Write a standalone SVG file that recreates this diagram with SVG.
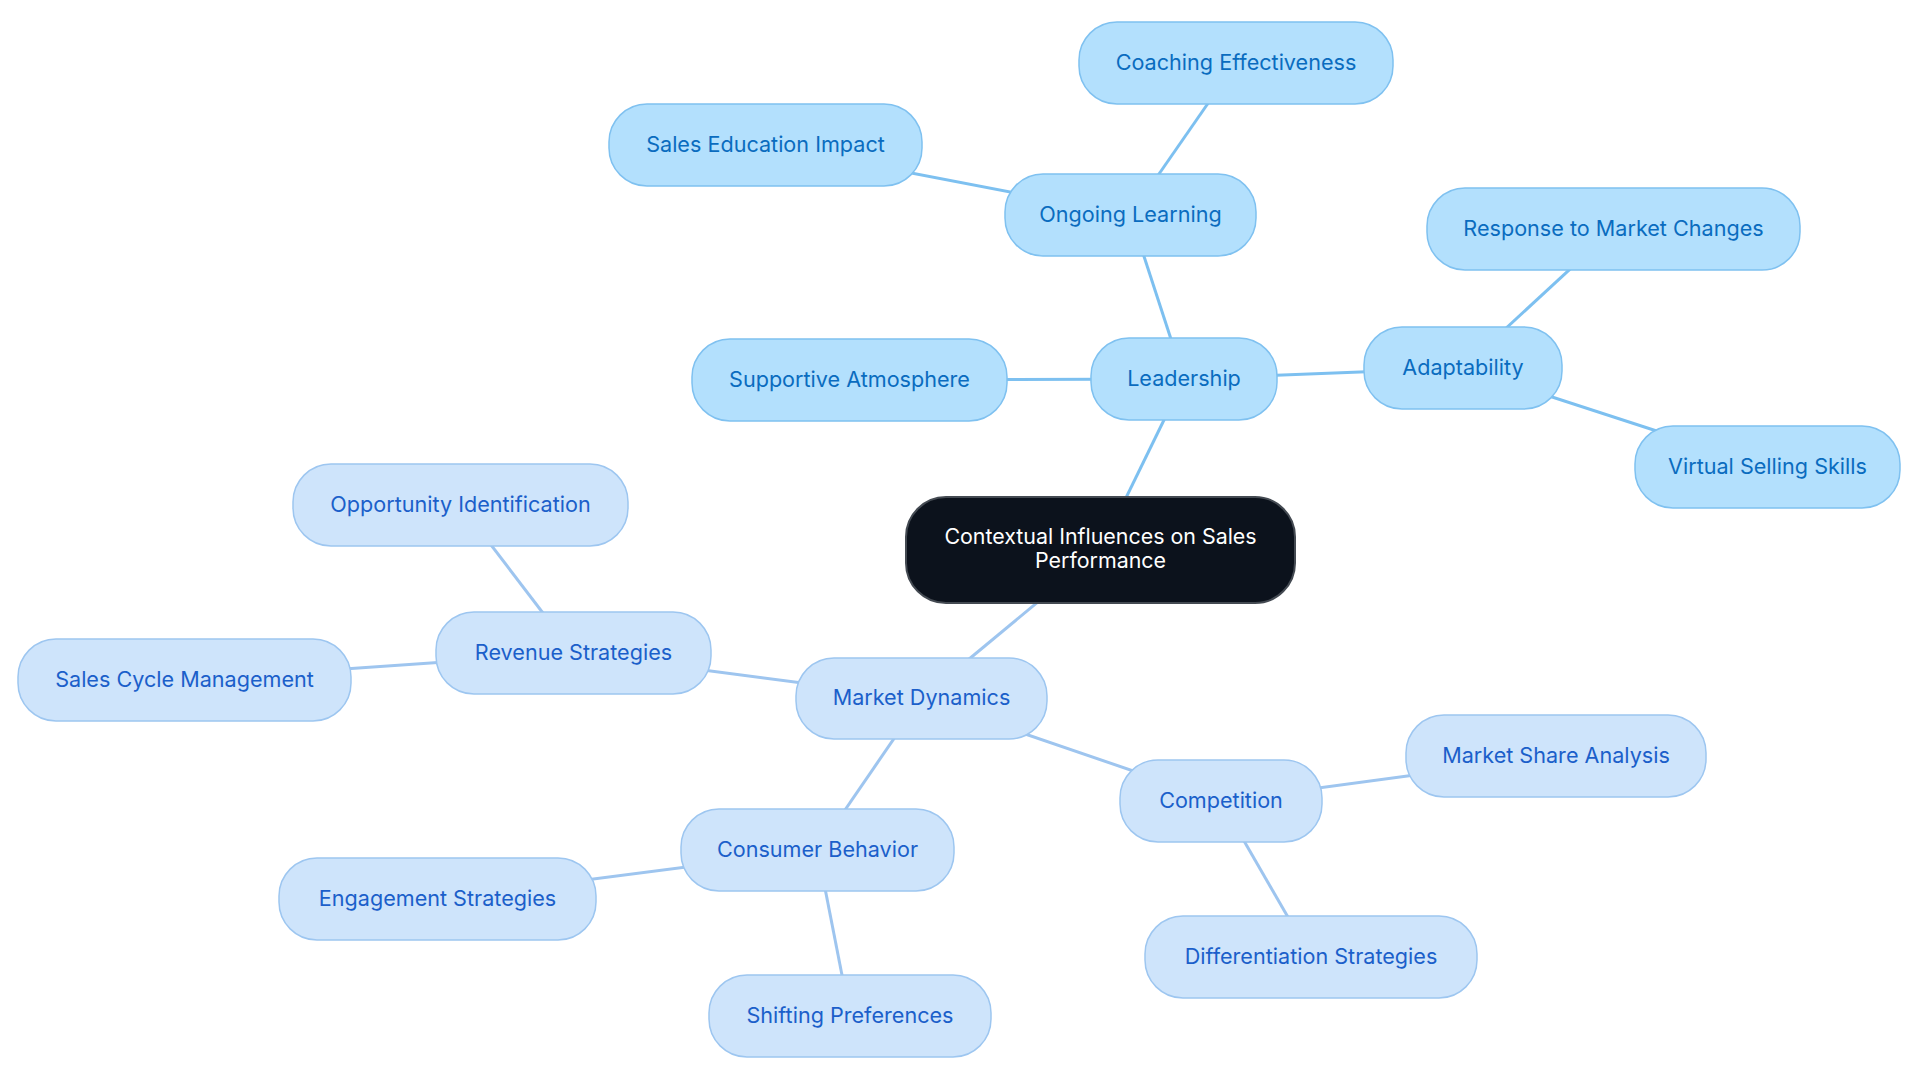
<svg xmlns="http://www.w3.org/2000/svg" width="1920" height="1083" viewBox="0 0 1920 1083">
<style>
.bg{fill:#ffffff}
.e1{stroke:#7dc0f0;stroke-width:3;fill:none}
.e2{stroke:#9ec5ef;stroke-width:3;fill:none}
.n1 rect{fill:#b3e0fd;stroke:#7fc1f0;stroke-width:1.5}
.n2 rect{fill:#cee4fb;stroke:#9dc6f0;stroke-width:1.5}
.n1 text{fill:#0a6cbf}
.n2 text{fill:#1b5fca}
text{font-family:Inter,"Noto Sans","Liberation Sans",sans-serif;font-size:21.6px;text-anchor:middle;dominant-baseline:central}
.root rect{fill:#0c121c;stroke:#444a52;stroke-width:2}
.root text{fill:#ffffff;font-size:21.4px}
</style>
<rect class="bg" x="0" y="0" width="1920" height="1083"/>
<g id="connectors">
<line class="e1" x1="1100.5" y1="550" x2="1184" y2="379"/>
<line class="e1" x1="1184" y1="379" x2="1130.5" y2="215"/>
<line class="e1" x1="1130.5" y1="215" x2="1236" y2="63"/>
<line class="e1" x1="1130.5" y1="215" x2="765.5" y2="145"/>
<line class="e1" x1="1184" y1="379" x2="849.5" y2="380"/>
<line class="e1" x1="1184" y1="379" x2="1463" y2="368"/>
<line class="e1" x1="1463" y1="368" x2="1613.5" y2="229"/>
<line class="e1" x1="1463" y1="368" x2="1767.5" y2="467"/>
<line class="e2" x1="1100.5" y1="550" x2="921.5" y2="698.5"/>
<line class="e2" x1="921.5" y1="698.5" x2="573.5" y2="653"/>
<line class="e2" x1="573.5" y1="653" x2="460.5" y2="505"/>
<line class="e2" x1="573.5" y1="653" x2="184.5" y2="680"/>
<line class="e2" x1="921.5" y1="698.5" x2="1221" y2="801"/>
<line class="e2" x1="1221" y1="801" x2="1556" y2="756"/>
<line class="e2" x1="1221" y1="801" x2="1311" y2="957"/>
<line class="e2" x1="921.5" y1="698.5" x2="817.5" y2="850"/>
<line class="e2" x1="817.5" y1="850" x2="437.5" y2="899"/>
<line class="e2" x1="817.5" y1="850" x2="850" y2="1016"/>
</g>
<g id="root" class="root">
<rect x="906" y="497" width="389" height="106" rx="40"/>
<text x="1100.5" y="536">Contextual Influences on Sales</text>
<text x="1100.5" y="560">Performance</text>
</g>
<g id="leadership" class="n1"><rect x="1091" y="338" width="186" height="82" rx="38"/><text x="1184" y="377.5">Leadership</text></g>
<g id="ongoing-learning" class="n1"><rect x="1005" y="174" width="251" height="82" rx="38"/><text x="1130.5" y="213.5">Ongoing Learning</text></g>
<g id="coaching-effectiveness" class="n1"><rect x="1079" y="22" width="314" height="82" rx="38"/><text x="1236" y="61.5">Coaching Effectiveness</text></g>
<g id="sales-education-impact" class="n1"><rect x="609" y="104" width="313" height="82" rx="38"/><text x="765.5" y="143.5">Sales Education Impact</text></g>
<g id="supportive-atmosphere" class="n1"><rect x="692" y="339" width="315" height="82" rx="38"/><text x="849.5" y="378.5">Supportive Atmosphere</text></g>
<g id="adaptability" class="n1"><rect x="1364" y="327" width="198" height="82" rx="38"/><text x="1463" y="366.5">Adaptability</text></g>
<g id="response-to-market-changes" class="n1"><rect x="1427" y="188" width="373" height="82" rx="38"/><text x="1613.5" y="227.5">Response to Market Changes</text></g>
<g id="virtual-selling-skills" class="n1"><rect x="1635" y="426" width="265" height="82" rx="38"/><text x="1767.5" y="465.5">Virtual Selling Skills</text></g>
<g id="market-dynamics" class="n2"><rect x="796" y="658" width="251" height="81" rx="38"/><text x="921.5" y="697">Market Dynamics</text></g>
<g id="revenue-strategies" class="n2"><rect x="436" y="612" width="275" height="82" rx="38"/><text x="573.5" y="651.5">Revenue Strategies</text></g>
<g id="opportunity-identification" class="n2"><rect x="293" y="464" width="335" height="82" rx="38"/><text x="460.5" y="503.5">Opportunity Identification</text></g>
<g id="sales-cycle-management" class="n2"><rect x="18" y="639" width="333" height="82" rx="38"/><text x="184.5" y="678.5">Sales Cycle Management</text></g>
<g id="competition" class="n2"><rect x="1120" y="760" width="202" height="82" rx="38"/><text x="1221" y="799.5">Competition</text></g>
<g id="market-share-analysis" class="n2"><rect x="1406" y="715" width="300" height="82" rx="38"/><text x="1556" y="754.5">Market Share Analysis</text></g>
<g id="differentiation-strategies" class="n2"><rect x="1145" y="916" width="332" height="82" rx="38"/><text x="1311" y="955.5">Differentiation Strategies</text></g>
<g id="consumer-behavior" class="n2"><rect x="681" y="809" width="273" height="82" rx="38"/><text x="817.5" y="848.5">Consumer Behavior</text></g>
<g id="engagement-strategies" class="n2"><rect x="279" y="858" width="317" height="82" rx="38"/><text x="437.5" y="897.5">Engagement Strategies</text></g>
<g id="shifting-preferences" class="n2"><rect x="709" y="975" width="282" height="82" rx="38"/><text x="850" y="1014.5">Shifting Preferences</text></g>
</svg>
